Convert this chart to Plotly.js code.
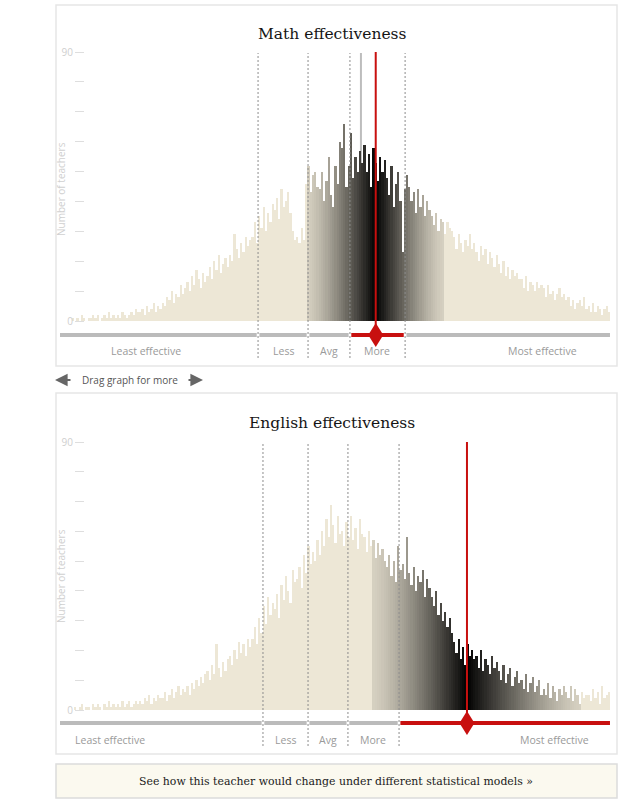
<!DOCTYPE html>
<html>
<head>
<meta charset="utf-8">
<script src="https://cdn.plot.ly/plotly-3.0.1.min.js"></script>
<style>
html,body{margin:0;padding:0;background:#fff;}
#chart{width:634px;height:800px;}
</style>
</head>
<body>
<div id="chart"></div>
<script>
// ---------- DATA ----------
const mathCounts = [
  1,0,1,0,2,1,0,1,1,2,
  1,2,0,1,2,1,3,1,2,1,
  2,1,3,2,1,2,3,2,4,3,
  3,4,2,5,3,4,6,3,5,4,
  6,5,8,7,10,6,9,8,12,9,
  11,13,10,15,12,17,14,11,16,13,
  15,18,14,20,17,22,16,19,21,18,
  22,20,29,24,21,26,23,28,25,27,
  28,33,26,35,31,38,30,36,33,39,
  37,41,34,44,38,40,43,36,30,27,
  28,26,31,27,46,52,43,49,50,45,
  44,50,40,47,55,42,38,52,46,60,
  58,66,45,52,63,48,55,50,57,53,
  59,50,56,45,58,53,47,55,50,54,
  48,42,52,38,46,50,40,23,44,49,
  45,40,43,36,44,38,42,35,40,37,
  35,32,36,30,34,33,29,33,31,30,
  28,24,29,26,23,27,25,29,24,26,
  23,20,25,22,24,19,23,21,18,22,
  19,16,20,15,18,14,17,15,16,14,
  14,11,15,10,13,12,10,13,11,12,
  11,8,12,9,10,7,9,11,8,9,
  7,8,5,7,4,6,7,5,8,4,
  5,3,6,3,5,4,2,4,5,3
];
const englishCounts = [
  0,1,0,1,2,0,1,1,0,2,
  1,2,1,0,2,1,3,1,2,1,
  2,1,3,1,2,3,1,2,3,2,
  3,2,4,3,5,2,4,3,5,4,
  4,6,3,5,7,4,6,8,5,7,
  6,8,5,9,7,10,8,11,9,12,
  13,10,15,12,22,14,11,16,13,17,
  18,15,20,17,23,19,22,18,24,21,
  24,28,22,31,26,35,29,38,32,36,
  34,39,31,42,37,45,40,36,47,43,
  44,48,41,52,46,55,49,53,50,57,
  52,60,55,64,58,69,62,56,65,59,
  60,55,63,58,65,57,61,54,64,59,
  58,53,60,55,57,51,56,52,54,50,
  48,52,45,50,43,55,47,49,44,58,
  46,42,48,40,45,43,47,38,44,41,
  38,35,40,32,36,30,33,28,31,26,
  23,19,24,17,21,15,22,18,20,17,
  18,14,20,13,17,15,12,18,14,16,
  13,10,15,9,12,14,8,11,13,9,
  10,7,12,6,9,11,6,8,10,5,
  7,5,9,4,8,6,3,7,5,8,
  6,4,8,3,7,5,2,6,4,5,
  5,3,7,4,6,2,8,4,5,6
];
const categoryLabels = ['Least effective', 'Less', 'Avg', 'More', 'Most effective'];
const mathBounds = [82.5, 104.8, 123.5, 148.1];
const englishBounds = [84.7, 104.8, 122.6, 145.4];
const mathTeacher = 135.0;
const mathPrevious = 128.4;
const englishTeacher = 175.7;
const mathInterval = [104.3, 165.0];
const englishInterval = [133.8, 226.1];
const yTickValues = [0, 10, 20, 30, 40, 50, 60, 70, 80, 90];
const yTickText = ['0', '', '', '', '', '', '', '', '', '90'];
const titles = ['Math effectiveness', 'English effectiveness'];
const yTitle = 'Number of teachers';
const dragText = 'Drag graph for more';
const buttonText = 'See how this teacher would change under different statistical models \u00bb';

// ---------- LAYOUT HELPERS ----------
const W = 634, H = 800;
const px = p => p / W;
const py = p => 1 - p / H;
const XR = [-5.85, 240.4];
const RED = '#c8100f';
const BEIGE = [237, 231, 214];

function shade(i, lo, c, hi) {
  if (i < lo || i > hi) return 'rgb(' + BEIGE.join(',') + ')';
  const d = i < c ? (c - i) / (c - lo) : (i - c) / (hi - c);
  const s = 0.1 + 0.9 * Math.pow(1 - d, 1.3);
  const m = BEIGE.map(v => Math.round(v * (1 - s)));
  return 'rgb(' + m.join(',') + ')';
}

const panels = [
  {counts: mathCounts, bounds: mathBounds, teacher: mathTeacher, prev: mathPrevious,
   interval: mathInterval, xa: 'x', ya: 'y',
   top: 5, bottom: 366, titleY: 34, y0: 321, y90: 52, barY: 335, dashTop: 53, dashBot: 358,
   labelY: 351, labelX: [146, 283, 329, 377, 542], yTitleY: 189},
  {counts: englishCounts, bounds: englishBounds, teacher: englishTeacher, prev: null,
   interval: englishInterval, xa: 'x2', ya: 'y2',
   top: 393, bottom: 754, titleY: 423, y0: 710, y90: 442, barY: 723, dashTop: 443, dashBot: 746,
   labelY: 740, labelX: [110, 285, 328, 373, 554], yTitleY: 576}
];

const traces = [];
const shapes = [];
const annotations = [];
const layout = {
  width: W, height: H, margin: {l: 0, r: 0, t: 0, b: 0},
  paper_bgcolor: '#fff', plot_bgcolor: 'rgba(0,0,0,0)',
  showlegend: false, bargap: 0, barmode: 'overlay',
  font: {family: 'Open Sans, sans-serif'}
};

panels.forEach((p, k) => {
  const idx = p.counts.map((_, i) => i);
  const colors = idx.map(i => shade(i, p.interval[0], p.teacher, p.interval[1]));
  traces.push({
    type: 'bar', x: idx, y: p.counts, width: 1,
    xaxis: p.xa, yaxis: p.ya,
    marker: {color: colors, line: {width: 0}},
    hoverinfo: 'skip'
  });
  const xName = k === 0 ? 'xaxis' : 'xaxis2';
  const yName = k === 0 ? 'yaxis' : 'yaxis2';
  layout[xName] = {domain: [px(60), px(612)], range: XR, visible: false,
    anchor: p.ya, fixedrange: true};
  layout[yName] = {domain: [py(p.y0), py(p.y90)], range: [0, 90], anchor: 'free',
    position: px(84), side: 'left', ticks: 'outside', ticklen: 9, tickwidth: 1,
    tickcolor: '#dedede', tickvals: yTickValues, ticktext: yTickText,
    tickfont: {family: 'Open Sans, sans-serif', size: 10, color: '#cfcfcf'},
    showgrid: false, zeroline: false, showline: false, fixedrange: true};

  // panel frame
  shapes.push({type: 'rect', xref: 'paper', yref: 'paper', x0: px(56), x1: px(617),
    y0: py(p.bottom), y1: py(p.top), line: {color: '#e6e6e6', width: 1.5}, layer: 'below'});

  // previous-position grey line
  if (p.prev !== null) {
    shapes.push({type: 'line', xref: p.xa, yref: 'paper', x0: p.prev, x1: p.prev,
      y0: py(p.y0), y1: py(p.dashTop), line: {color: '#bdbdbd', width: 2}, layer: 'below'});
  }

  // category bar segments
  const edges = [XR[0]].concat(p.bounds, [p.counts.length - 0.5]);
  let tCat = 0;
  p.bounds.forEach(b => { if (p.teacher > b) tCat++; });
  for (let c = 0; c < categoryLabels.length; c++) {
    const a = edges[c] + (c === 0 ? 0 : 0.6);
    const b = edges[c + 1] - (c === categoryLabels.length - 1 ? 0 : 0.6);
    shapes.push({type: 'line', xref: p.xa, yref: 'paper', x0: a, x1: b,
      y0: py(p.barY), y1: py(p.barY),
      line: {color: c === tCat ? RED : '#bbbbbb', width: 4}});
    annotations.push({xref: 'paper', yref: 'paper', x: px(p.labelX[c]), y: py(p.labelY),
      text: categoryLabels[c], showarrow: false, xanchor: 'center', yanchor: 'middle',
      font: {family: 'Open Sans, sans-serif', size: 10.5, color: '#9a9a9a'}});
  }

  // dashed boundaries
  p.bounds.forEach(b => {
    shapes.push({type: 'line', xref: p.xa, yref: 'paper', x0: b, x1: b,
      y0: py(p.dashBot), y1: py(p.dashTop), line: {color: '#8c8c8c', width: 1, dash: '2px,2px'}});
  });

  // teacher red line and diamond
  shapes.push({type: 'line', xref: p.xa, yref: 'paper', x0: p.teacher, x1: p.teacher,
    y0: py(p.barY), y1: py(p.dashTop - 1), line: {color: RED, width: 2}});
  shapes.push({type: 'path', xref: p.xa, yref: 'paper', xsizemode: 'pixel', ysizemode: 'pixel',
    xanchor: p.teacher, yanchor: py(p.barY), path: 'M0,12L7.5,0L0,-12L-7.5,0Z',
    fillcolor: RED, line: {width: 0}});

  // titles
  annotations.push({xref: 'paper', yref: 'paper', x: px(332), y: py(p.titleY),
    text: titles[k], showarrow: false, xanchor: 'center', yanchor: 'middle',
    font: {family: 'DejaVu Serif, serif', size: 15.5, color: '#151515'}});
  annotations.push({xref: 'paper', yref: 'paper', x: px(61), y: py(p.yTitleY),
    text: yTitle, showarrow: false, textangle: -90, xanchor: 'center', yanchor: 'middle',
    font: {family: 'Open Sans, sans-serif', size: 10, color: '#d0d0d0'}});
});

// drag hint
annotations.push({xref: 'paper', yref: 'paper', x: px(130), y: py(380), text: dragText,
  showarrow: false, xanchor: 'center', yanchor: 'middle',
  font: {family: 'Open Sans, sans-serif', size: 10, color: '#555'}});
annotations.push({xref: 'paper', yref: 'paper', x: px(55), y: py(380), text: '',
  showarrow: true, ax: 17, ay: 0, arrowhead: 2, arrowsize: 1.4, arrowwidth: 1.8, arrowcolor: '#666'});
annotations.push({xref: 'paper', yref: 'paper', x: px(203), y: py(380), text: '',
  showarrow: true, ax: -16, ay: 0, arrowhead: 2, arrowsize: 1.4, arrowwidth: 1.8, arrowcolor: '#666'});

// button
shapes.push({type: 'rect', xref: 'paper', yref: 'paper', x0: px(56), x1: px(617),
  y0: py(798), y1: py(764), fillcolor: '#fbf9ef', line: {color: '#dcdcdc', width: 1.5}, layer: 'below'});
annotations.push({xref: 'paper', yref: 'paper', x: px(336), y: py(781), text: buttonText,
  showarrow: false, xanchor: 'center', yanchor: 'middle',
  font: {family: 'DejaVu Serif, serif', size: 10.9, color: '#1a1a1a'}});

layout.shapes = shapes;
layout.annotations = annotations;

Plotly.newPlot('chart', traces, layout, {staticPlot: true, displayModeBar: false});
</script>
</body>
</html>
